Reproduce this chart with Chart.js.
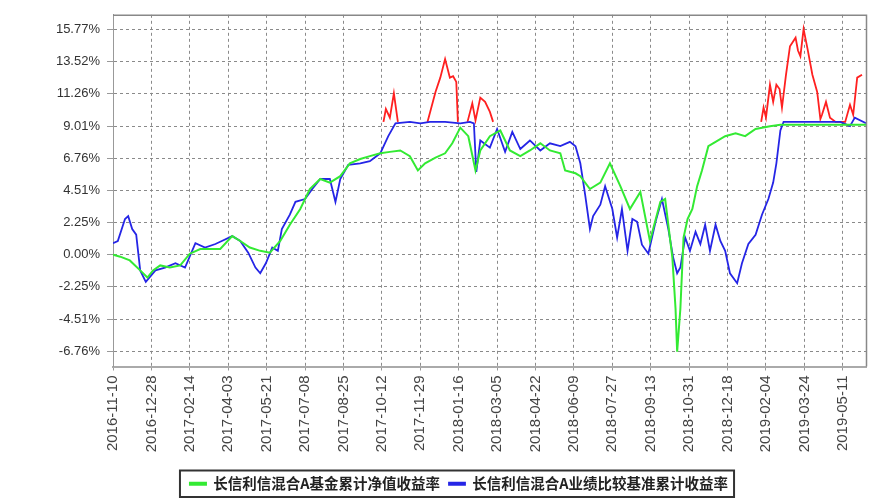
<!DOCTYPE html>
<html>
<head>
<meta charset="utf-8">
<script src="https://cdn.jsdelivr.net/npm/chart.js@4.4.1/dist/chart.umd.min.js"></script>
<style>
  html, body { margin: 0; padding: 0; background: #fff; }
  #wrap { width: 875px; height: 501px; }
</style>
</head>
<body>
<div id="wrap"><canvas id="chart"></canvas></div>
<script>
// x axis: days since 2016-11-10, one tick every 48 days
const xTickLabels = ['2016-11-10', '2016-12-28', '2017-02-14', '2017-04-03', '2017-05-21', '2017-07-08',
    '2017-08-25', '2017-10-12', '2017-11-29', '2018-01-16', '2018-03-05', '2018-04-22', '2018-06-09',
    '2018-07-27', '2018-09-13', '2018-10-31', '2018-12-18', '2019-02-04', '2019-03-24', '2019-05-11'];
const yTickValues = [-6.76, -4.51, -2.25, 0, 2.25, 4.51, 6.76, 9.01, 11.26, 13.52, 15.77];

const fundDays = [0, 9, 21, 34, 43, 50, 59, 71, 84, 96, 109, 121, 134, 149, 159, 171, 184, 196, 209, 221,
    234, 246, 259, 271, 284, 296, 309, 321, 334, 346, 359, 371, 381, 390, 403, 415, 424, 434, 444, 453,
    459, 471, 484, 496, 509, 521, 534, 546, 559, 565, 578, 584, 596, 609, 621, 634, 646, 659, 671, 684,
    690, 699, 703, 705, 709, 713, 718, 724, 730, 736, 744, 753, 765, 778, 790, 803, 821, 834, 859, 884,
    909, 941];
const fundValues = [0.0, -0.14, -0.4, -1.1, -1.6, -1.1, -0.75, -0.9, -0.75, 0.07, 0.4, 0.4, 0.4, 1.3, 0.96,
    0.5, 0.27, 0.14, 0.96, 2.1, 3.2, 4.6, 5.3, 5.05, 5.5, 6.4, 6.7, 6.9, 7.1, 7.2, 7.3, 6.9, 5.9, 6.4,
    6.8, 7.1, 7.8, 8.9, 8.3, 5.9, 7.3, 8.3, 8.7, 7.3, 6.9, 7.3, 7.8, 7.3, 7.1, 5.9, 5.7, 5.5, 4.6, 5.05,
    6.4, 4.8, 3.2, 4.4, 0.96, 3.7, 3.9, -0.2, -3.8, -6.8, -3.8, 1.2, 2.5, 3.2, 4.8, 5.9, 7.6, 7.9, 8.3,
    8.5, 8.3, 8.8, 9.0, 9.1, 9.1, 9.1, 9.1, 9.1];

const benchDays = [0, 6, 15, 19, 24, 29, 34, 41, 53, 65, 78, 90, 103, 115, 128, 136, 149, 159, 169, 178,
    184, 191, 199, 206, 211, 221, 228, 240, 249, 259, 271, 278, 284, 294, 309, 321, 334, 344, 353, 371,
    384, 396, 415, 434, 446, 451, 454, 459, 471, 480, 490, 499, 509, 521, 534, 546, 559, 571, 578, 584,
    590, 596, 600, 609, 615, 624, 630, 636, 643, 649, 655, 661, 669, 678, 686, 694, 700, 705, 709, 715,
    721, 728, 734, 740, 746, 753, 759, 765, 771, 780, 786, 794, 803, 811, 819, 825, 829, 834, 838, 859,
    884, 909, 921, 927, 941];
const benchValues = [0.8, 0.96, 2.5, 2.7, 1.8, 1.4, -1.1, -1.9, -1.1, -0.9, -0.6, -0.9, 0.8, 0.5, 0.75,
    0.96, 1.3, 0.96, 0.14, -0.9, -1.3, -0.6, 0.5, 0.27, 1.8, 2.8, 3.7, 3.9, 4.6, 5.3, 5.3, 3.7, 5.3, 6.3,
    6.4, 6.55, 7.1, 8.3, 9.2, 9.3, 9.2, 9.3, 9.3, 9.2, 9.3, 9.2, 5.8, 8.0, 7.5, 8.8, 7.2, 8.6, 7.4, 8.0,
    7.3, 7.8, 7.6, 7.9, 7.6, 6.4, 4.2, 1.8, 2.7, 3.5, 4.8, 3.2, 1.2, 3.2, 0.27, 2.5, 2.3, 0.7, 0.07, 2.3,
    3.9, 1.8, -0.2, -1.3, -0.9, 1.2, 0.27, 1.6, 0.75, 2.1, 0.27, 2.1, 0.96, 0.27, -1.3, -2.0, -0.6, 0.75,
    1.4, 2.8, 3.9, 5.05, 6.4, 8.7, 9.3, 9.3, 9.3, 9.3, 9.0, 9.6, 9.2];

// red trace drawn above the 9% band (no legend entry)
const overDays = [338, 341, 346, 351, 356, 370, 393, 403, 409, 415, 421, 425, 429, 431, 437, 443, 449, 453,
    459, 465, 471, 475, 600, 810, 813, 816, 821, 825, 829, 833, 836, 841, 846, 853, 856, 859, 863, 868,
    874, 880, 884, 886, 891, 896, 903, 915, 921, 925, 930, 936];
const overValues = [9.3, 10.2, 9.6, 11.3, 9.3, null, 9.3, 11.4, 12.4, 13.7, 12.4, 12.5, 12.1, 9.3, null,
    9.3, 10.6, 9.4, 11.0, 10.7, 10.0, 9.3, null, 9.3, 10.3, 9.6, 11.9, 10.7, 11.9, 11.6, 10.3, 12.6, 14.6,
    15.2, 14.3, 13.9, 15.8, 14.4, 12.6, 11.4, 9.5, 9.8, 10.7, 9.6, 9.3, 9.3, 10.5, 9.8, 12.4, 12.6];

const toPoints = (days, vals) => days.map((d, i) => ({ x: d, y: vals[i] }));

const legendFrame = {
    id: 'legendFrame',
    afterDraw(chart) {
        const boxes = chart.legend && chart.legend.legendHitBoxes;
        if (!boxes || !boxes.length) return;
        const left = Math.min(...boxes.map(b => b.left)) - 10;
        const right = Math.max(...boxes.map(b => b.left + b.width)) + 6;
        const top = Math.min(...boxes.map(b => b.top)) - 6;
        const bottom = Math.max(...boxes.map(b => b.top + b.height)) + 6;
        const ctx = chart.ctx;
        ctx.save();
        ctx.strokeStyle = '#333';
        ctx.lineWidth = 2;
        ctx.strokeRect(left, top, right - left, bottom - top);
        ctx.restore();
    }
};

const plotFrame = {
    id: 'plotFrame',
    afterDatasetsDraw(chart) {
        const a = chart.chartArea;
        const ctx = chart.ctx;
        ctx.save();
        ctx.strokeStyle = '#888';
        ctx.lineWidth = 1.5;
        ctx.beginPath();
        ctx.moveTo(a.left, a.top + 0.5);
        ctx.lineTo(a.right + 0.5, a.top + 0.5);
        ctx.lineTo(a.right + 0.5, a.bottom);
        ctx.stroke();
        ctx.restore();
    }
};

new Chart(document.getElementById('chart'), {
    type: 'line',
    data: {
        datasets: [
            {
                label: '长信利信混合A基金累计净值收益率',
                data: toPoints(fundDays, fundValues),
                borderColor: '#33ea33',
                backgroundColor: '#33ea33',
                borderWidth: 2,
                pointRadius: 0,
                tension: 0,
            },
            {
                label: '长信利信混合A业绩比较基准累计收益率',
                data: toPoints(benchDays, benchValues),
                borderColor: '#2525e6',
                backgroundColor: '#5050ff',
                borderWidth: 1.8,
                pointRadius: 0,
                tension: 0,
            },
            {
                label: 'over',
                data: toPoints(overDays, overValues),
                borderColor: '#ff2020',
                backgroundColor: '#ff2020',
                borderWidth: 1.8,
                pointRadius: 0,
                spanGaps: false,
                tension: 0,
            },
        ],
    },
    options: {
        responsive: true,
        maintainAspectRatio: false,
        animation: false,
        devicePixelRatio: 1,
        layout: { padding: { left: 52, right: 9, top: 0, bottom: 0 } },
        plugins: {
            tooltip: { enabled: false },
            legend: {
                position: 'bottom',
                labels: {
                    filter: (item) => item.datasetIndex < 2,
                    boxWidth: 16,
                    boxHeight: 2,
                    padding: 9,
                    color: '#222',
                    font: { family: '"Noto Sans CJK SC"', size: 14.5, weight: 'bold' },
                },
            },
        },
        scales: {
            x: {
                type: 'linear',
                min: 0,
                max: 941,
                afterBuildTicks(scale) {
                    scale.ticks = xTickLabels.map((t, i) => ({ value: i * 48 }));
                },
                afterFit(scale) { scale.height = 101; },
                ticks: {
                    autoSkip: false,
                    maxRotation: 90,
                    minRotation: 90,
                    padding: 5,
                    color: '#444',
                    font: { family: '"Liberation Sans"', size: 15 },
                    callback: (v) => xTickLabels[Math.round(v / 48)],
                },
                grid: { color: '#8a8a8a', tickLength: 4, tickColor: '#999' },
                border: { color: '#aaa', width: 2, dash: [3, 3] },
            },
            y: {
                min: -7.83,
                max: 16.8,
                afterBuildTicks(scale) {
                    scale.ticks = yTickValues.map(v => ({ value: v }));
                },
                afterFit(scale) { scale.width = 61; },
                ticks: {
                    padding: 7,
                    color: '#333',
                    font: { family: '"Liberation Sans"', size: 13 },
                    callback: (v) => v.toFixed(2) + '%',
                },
                grid: { color: '#8a8a8a', tickLength: 6, tickColor: '#999' },
                border: { color: '#999', width: 1, dash: [3, 3] },
            },
        },
    },
    plugins: [legendFrame, plotFrame],
});
</script>
</body>
</html>
